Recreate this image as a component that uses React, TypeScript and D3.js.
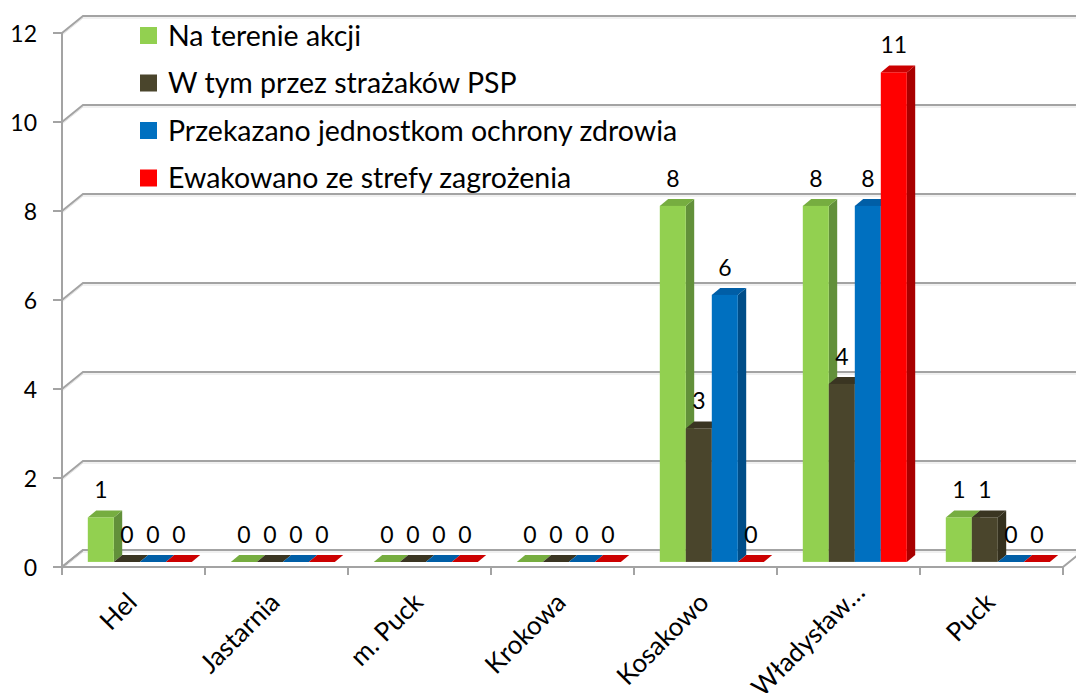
import React from 'react';
import * as d3 from 'd3';

const categories = ['Hel', 'Jastarnia', 'm. Puck', 'Krokowa', 'Kosakowo', 'Władysław…', 'Puck'];
const seriesNames = [
  'Na terenie akcji',
  'W tym przez strażaków PSP',
  'Przekazano jednostkom ochrony zdrowia',
  'Ewakowano ze strefy zagrożenia',
];
const naTerenieAkcji = [1, 0, 0, 0, 8, 8, 1];
const wTymPrzezPSP = [0, 0, 0, 0, 3, 4, 1];
const przekazanoJOZ = [0, 0, 0, 0, 6, 8, 0];
const ewakowano = [0, 0, 0, 0, 0, 11, 0];
const seriesValues = [naTerenieAkcji, wTymPrzezPSP, przekazanoJOZ, ewakowano];
const yTicks = [0, 2, 4, 6, 8, 10, 12];

const palette = [
  { front: '#92D050', top: '#76AD40', side: '#62903A' },
  { front: '#4A452C', top: '#3A3522', side: '#34301E' },
  { front: '#0070C0', top: '#005EA6', side: '#004D88' },
  { front: '#FF0000', top: '#CC0000', side: '#A80000' },
];

const W = 1076;
const H = 693;
const FONT = 'Lato, "Open Sans", sans-serif';

export default function App() {
  const left = 62;
  const right = 1063;
  const DX = 21;
  const DY = -17;
  const fFront = 0.3;
  const fDepth = 0.4;

  const y = d3.scaleLinear().domain([0, 12]).range([567, 33]);
  const x = d3.scaleBand<string>().domain(categories).range([left, right]).padding(0);
  const groupPad = (x.bandwidth() - 104) / 2;
  const sub = d3
    .scaleBand<string>()
    .domain(seriesNames)
    .range([groupPad, x.bandwidth() - groupPad])
    .padding(0);

  const w = sub.bandwidth();
  const ddx = DX * fDepth;
  const ddy = DY * fDepth;
  const offX = DX * fFront;
  const offY = DY * fFront;

  const bars: React.ReactNode[] = [];
  const labels: React.ReactNode[] = [];
  categories.forEach((c, ci) => {
    seriesNames.forEach((s, si) => {
      const v = seriesValues[si][ci];
      const col = palette[si];
      const x0 = (x(c) as number) + (sub(s) as number) + offX;
      const yb = y(0) + offY;
      const yt = y(v) + offY;
      const topPts = [
        [x0, yt],
        [x0 + w, yt],
        [x0 + w + ddx, yt + ddy],
        [x0 + ddx, yt + ddy],
      ]
        .map((p) => p.join(','))
        .join(' ');
      const sidePts = [
        [x0 + w, yt],
        [x0 + w + ddx, yt + ddy],
        [x0 + w + ddx, yb + ddy],
        [x0 + w, yb],
      ]
        .map((p) => p.join(','))
        .join(' ');
      bars.push(
        <g key={`b-${ci}-${si}`}>
          {v > 0 && <polygon points={sidePts} fill={col.side} />}
          <polygon points={topPts} fill={col.top} />
          {v > 0 && <rect x={x0} y={yt} width={w} height={yb - yt} fill={col.front} />}
        </g>
      );
      labels.push(
        <text
          key={`l-${ci}-${si}`}
          x={x0 + w / 2}
          y={yt - 19}
          textAnchor="middle"
          fontSize={23}
          fontFamily={FONT}
          fill="#000"
        >
          {v}
        </text>
      );
    });
  });

  const gridColor = '#a3a3a3';

  return (
    <svg
      width={W}
      height={H}
      style={{ position: 'absolute', left: 0, top: 0, background: '#fff' }}
    >
      <rect x={0} y={0} width={W} height={H} fill="#fff" />
      {/* floor */}
      <polygon
        points={`${left},${y(0)} ${right},${y(0)} ${right + DX},${y(0) + DY} ${left + DX},${y(0) + DY}`}
        fill="#fff"
        stroke={gridColor}
        strokeWidth={2}
      />
      {/* gridlines on back wall */}
      {yTicks.map((t) => (
        <g key={`g-${t}`}>
          <path
            d={`M${left},${y(t) + 2} L${left + DX},${y(t) + DY + 2} L${W + 10},${y(t) + DY + 2}`}
            fill="none"
            stroke="#e2e2e2"
            strokeWidth={1}
          />
          <path
            d={`M${left},${y(t)} L${left + DX},${y(t) + DY} L${W + 10},${y(t) + DY}`}
            fill="none"
            stroke={gridColor}
            strokeWidth={2}
          />
        </g>
      ))}
      {/* y axis */}
      <line x1={left} y1={y(12)} x2={left} y2={y(0)} stroke={gridColor} strokeWidth={2} />
      {yTicks.map((t) => (
        <g key={`yt-${t}`}>
          <line x1={left - 9} x2={left} y1={y(t)} y2={y(t)} stroke={gridColor} strokeWidth={2} />
          <text x={37} y={y(t) + 9} textAnchor="end" fontSize={23} fontFamily={FONT} fill="#000">
            {t}
          </text>
        </g>
      ))}
      {/* x axis */}
      <line x1={left} y1={y(0)} x2={right} y2={y(0)} stroke={gridColor} strokeWidth={2} />
      {d3.range(categories.length + 1).map((i) => {
        const xx = left + i * x.bandwidth();
        return <line key={`xt-${i}`} x1={xx} x2={xx} y1={y(0)} y2={y(0) + 8} stroke={gridColor} strokeWidth={2} />;
      })}
      {categories.map((c) => {
        const cx = (x(c) as number) + x.bandwidth() / 2;
        const trunc = c.endsWith('…');
        return (
          <text
            key={`c-${c}`}
            transform={`translate(${cx + (trunc ? 18 : 5)},${trunc ? 594 : 604}) rotate(-45)`}
            textAnchor="end"
            fontSize={26}
            fontFamily={FONT}
            fill="#000"
          >
            {c}
          </text>
        );
      })}
      {bars}
      {labels}
      {/* legend */}
      {seriesNames.map((s, i) => {
        const cy = 35.5 + i * 47.5;
        return (
          <g key={`lg-${i}`}>
            <rect x={140} y={cy - 8.5} width={17} height={17} fill={palette[i].front} />
            <text x={168} y={cy + 10} fontSize={28.5} fontFamily={FONT} fill="#000">
              {s}
            </text>
          </g>
        );
      })}
    </svg>
  );
}
